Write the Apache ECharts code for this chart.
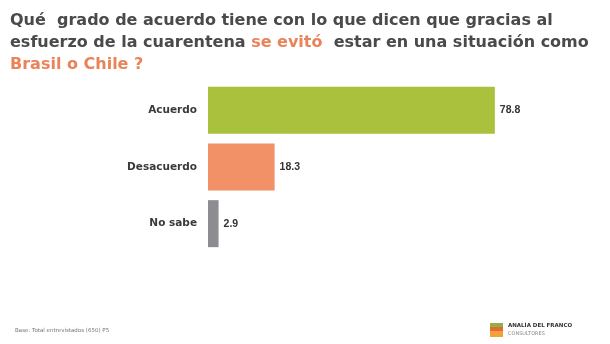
<!DOCTYPE html>
<html><head><meta charset="utf-8">
<script src="https://cdn.jsdelivr.net/npm/echarts@6/dist/echarts.min.js"></script>
<style>html,body{margin:0;padding:0;background:#fff}#c{width:610px;height:344px}</style>
</head><body><div id="c"></div>
<script>
const categories = ['Acuerdo', 'Desacuerdo', 'No sabe'];
const values = [78.8, 18.3, 2.9];
const barColors = ['#a9c13c', '#f29068', '#8d8d91'];
const titleLines = [
  ['Qué  grado de acuerdo tiene con lo que dicen que gracias al'],
  ['esfuerzo de la cuarentena ', {o:'se evitó'}, '  estar en una situación como'],
  [{o:'Brasil o Chile ?'}]
];
const footnote = 'Base: Total entrevistados (650) P5';

const chart = echarts.init(document.getElementById('c'), null, {renderer:'canvas'});
const titleText = titleLines.map(l => l.map(p => typeof p === 'string' ? '{d|' + p + '}' : '{o|' + p.o + '}').join('')).join('\n');
const font = 'DejaVu Sans';
chart.setOption({
  animation: false,
  title: {
    left: 5, top: 5,
    text: titleText,
    textStyle: {
      rich: {
        d: {fontFamily: font, fontWeight: 'bold', fontSize: 16, color: '#4a4a4a', lineHeight: 22},
        o: {fontFamily: font, fontWeight: 'bold', fontSize: 16, color: '#e9835a', lineHeight: 22}
      }
    }
  },
  grid: {left: 208, top: 82, width: 364, height: 170},
  xAxis: {type: 'value', min: 0, max: 100, show: false},
  yAxis: {
    type: 'category', data: categories, inverse: true,
    axisLine: {show: false}, axisTick: {show: false},
    axisLabel: {margin: 11, fontFamily: font, fontWeight: 'bold', fontSize: 10.5, color: '#3a3a3a'}
  },
  series: [{
    type: 'bar', barWidth: 47,
    data: values.map((v, i) => ({value: v, itemStyle: {color: barColors[i]}})),
    label: {show: true, position: 'right', distance: 5, fontFamily: 'Liberation Sans', fontWeight: 'bold', fontSize: 10.5, color: '#333'}
  }],
  graphic: [
    {type: 'text', left: 15, top: 328, style: {text: footnote, fontFamily: font, fontSize: 5.5, fill: '#777'}},
    {type: 'rect', shape: {x: 490, y: 323, width: 13, height: 4}, style: {fill: '#8fb04a'}},
    {type: 'rect', shape: {x: 490, y: 327, width: 13, height: 4}, style: {fill: '#e86a2e'}},
    {type: 'rect', shape: {x: 490, y: 331, width: 13, height: 6}, style: {fill: '#f2a23a'}},
    {type: 'text', left: 508, top: 323, style: {text: 'ANALÍA DEL FRANCO', fontFamily: font, fontWeight: 'bold', fontSize: 5.5, fill: '#333'}},
    {type: 'text', left: 508, top: 331, style: {text: 'CONSULTORES', fontFamily: font, fontSize: 5, fill: '#888'}}
  ]
});
</script></body></html>
